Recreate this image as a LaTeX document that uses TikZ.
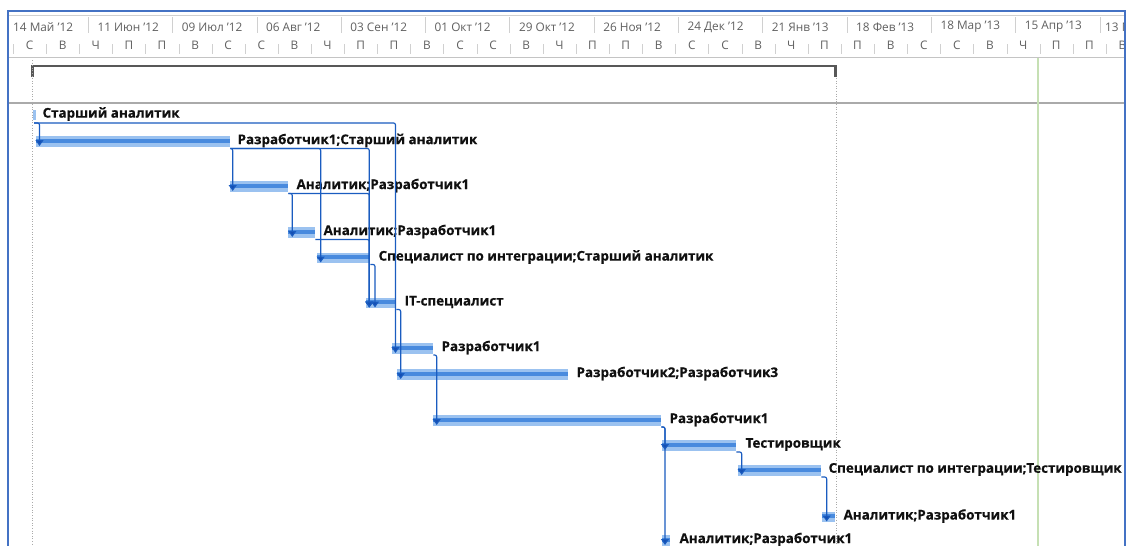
\documentclass[tikz,border=0pt]{standalone}
\usepackage{fontspec}
\setmainfont{Open Sans}
\newfontfamily\lblfont{Open Sans}[FakeBold=0.45]
\usetikzlibrary{arrows.meta}
\definecolor{frameblue}{RGB}{68,114,196}
\definecolor{barlight}{RGB}{155,194,240}
\definecolor{bardark}{RGB}{72,138,222}
\definecolor{linkblue}{RGB}{26,92,192}
\definecolor{tipblue}{RGB}{20,78,178}
\definecolor{hdrgrey}{RGB}{96,96,96}
\definecolor{tickgrey}{RGB}{208,208,208}
\definecolor{rulegrey}{RGB}{170,170,170}
\definecolor{sumgrey}{RGB}{88,88,88}
\definecolor{dotgrey}{RGB}{170,170,170}
\definecolor{todaygreen}{RGB}{198,224,180}
\definecolor{lblblack}{RGB}{16,16,16}

\begin{document}
\begin{tikzpicture}[x=1pt,y=-1pt,
  hdr/.style={font=\fontsize{11.8}{14}\selectfont, text=hdrgrey, inner sep=0pt},
  lbl/.style={font=\lblfont\bfseries\fontsize{13.4}{15}\selectfont, text=lblblack, inner sep=0pt, anchor=west},
  barbox/.style={fill=barlight, draw=none, inner sep=0pt, minimum height=10.5pt, anchor=west},
  link/.style={draw=linkblue, line width=1.15pt, rounded corners=2pt,
               -{Triangle[width=8pt,length=6pt,fill=tipblue]}},
  tick/.style={draw=tickgrey, line width=0.8pt},
]
% canvas
\fill[white] (0,0) rectangle (1128,546);
\useasboundingbox (0,0) rectangle (1128,546);

% ---------- timescale header ----------
\draw[tickgrey, line width=1pt] (8,15) -- (1125,15);
\draw[rulegrey!70, line width=1.3pt] (8,57.5) -- (1125,57.5);
\begin{scope}
  \clip (8,11) rectangle (1123,60);
  % major tier: four-week blocks
  \foreach \k in {0,...,12}
    \draw[tick] (88.3+84.3*\k,17) -- (88.3+84.3*\k,33);
  \foreach \t [count=\k from 0] in
    {14 Май '12,11 Июн '12,09 Июл '12,06 Авг '12,03 Сен '12,01 Окт '12,29 Окт '12,
     26 Ноя '12,24 Дек '12,21 Янв '13,18 Фев '13,18 Мар '13,15 Апр '13}
    \node[hdr, anchor=west] (maj\k) at (13+84.3*\k,27) {\t};
  \node[hdr, anchor=west] (maj13) at (1105,27) {13 М};
  % minor tier: eleven-day steps
  \foreach \k in {0,...,33}
    \draw[tick] (13.3+33.12*\k,44) -- (13.3+33.12*\k,54);
  \foreach \c [count=\k from 0] in
    {С,В,Ч,П,П,В,С,С,В,Ч,П,П,В,С,С,В,Ч,П,П,В,С,С,В,Ч,П,П,В,С,С,В,Ч,П,П,В}
    \node[hdr] (min\k) at (29.5+33.12*\k,45.5) {\c};
\end{scope}

% ---------- project summary ----------
\draw[sumgrey, line width=2pt] (32,66) -- (836,66);
\fill[sumgrey] (31,64.5) rectangle (34,77);
\fill[sumgrey] (834,64.5) rectangle (837,77);
\draw[rulegrey, line width=1.3pt] (8,103) -- (1125,103);

% project bounds and status date
\draw[dotgrey, line width=0.8pt, dash pattern=on 1pt off 1.6pt] (32,60) -- (32,546);
\draw[dotgrey, line width=0.8pt, dash pattern=on 1pt off 1.6pt] (836,78) -- (836,546);
\draw[todaygreen, line width=2pt] (1037.5,58) -- (1037.5,546);

% ---------- task bars ----------
\node[barbox, minimum width=3pt]   (t1)  at (33,115)    {};
\node[barbox, minimum width=194pt] (t2)  at (36,141.5)  {};
\node[barbox, minimum width=58pt]  (t3)  at (230,186.5) {};
\node[barbox, minimum width=27pt]  (t4)  at (288,232.5) {};
\node[barbox, minimum width=53pt]  (t5)  at (317,258)   {};
\node[barbox, minimum width=30pt]  (t6)  at (366,303)   {};
\node[barbox, minimum width=41pt]  (t7)  at (392,348.5) {};
\node[barbox, minimum width=171pt] (t8)  at (397,374.5) {};
\node[barbox, minimum width=228pt] (t9)  at (433,420.5) {};
\node[barbox, minimum width=74pt]  (t10) at (662,445.5) {};
\node[barbox, minimum width=83pt]  (t11) at (738,470.5) {};
\node[barbox, minimum width=13pt]  (t12) at (822,517)   {};
\node[barbox, minimum width=8pt]   (t13) at (662,540.5) {};
% darker core stripe of each bar
\foreach \b in {t2,t3,t4,t5,t6,t7,t8,t9,t10,t11,t12,t13}
  \fill[bardark] ([yshift=2.8pt]\b.west) rectangle ([yshift=-1.2pt]\b.east);

% ---------- resource labels ----------
\node[lbl] (l1)  at ([xshift=6pt,yshift=1pt]t1.east)  {Старший аналитик};
\node[lbl] (l2)  at ([xshift=7pt,yshift=1pt]t2.east)  {Разработчик1;Старший аналитик};
\node[lbl] (l3)  at ([xshift=8pt,yshift=1pt]t3.east)  {Аналитик;Разработчик1};
\node[lbl] (l4)  at ([xshift=8pt,yshift=1pt]t4.east)  {Аналитик;Разработчик1};
\node[lbl] (l5)  at ([xshift=8pt,yshift=1pt]t5.east)  {Специалист по интеграции;Старший аналитик};
\node[lbl] (l6)  at ([xshift=8pt,yshift=1pt]t6.east)  {IT-специалист};
\node[lbl] (l7)  at ([xshift=8pt,yshift=1pt]t7.east)  {Разработчик1};
\node[lbl] (l8)  at ([xshift=8pt,yshift=1pt]t8.east)  {Разработчик2;Разработчик3};
\node[lbl] (l9)  at ([xshift=8pt,yshift=1pt]t9.east)  {Разработчик1};
\node[lbl] (l10) at ([xshift=9pt,yshift=1pt]t10.east) {Тестировщик};
\node[lbl] (l11) at ([xshift=7pt,yshift=1pt]t11.east) {Специалист по интеграции;Тестировщик};
\node[lbl] (l12) at ([xshift=8pt,yshift=1pt]t12.east) {Аналитик;Разработчик1};
\node[lbl] (l13) at ([xshift=9pt,yshift=1pt]t13.east) {Аналитик;Разработчик1};

% ---------- finish-to-start links ----------
\draw[link] (t1.south west) ++(1,2.5) -| ([xshift=3.5pt,yshift=-4.5pt]t7.west);
\draw[link] (t1.south west) ++(1,2.5) -| ([xshift=3.5pt,yshift=-4.5pt]t2.west);
\draw[link] (t2.south east) ++(0,1.5) -| ([xshift=3.3pt,yshift=-4.5pt]t6.west);
\draw[link] (t2.south east) ++(0,1.5) -| ([xshift=3.7pt,yshift=-4.5pt]t5.west);
\draw[link] (t2.south east) ++(0,1.5) -| ([xshift=2.7pt,yshift=-4.5pt]t3.west);
\draw[link] (t3.south east) ++(0,1.5) -| ([xshift=3.3pt,yshift=-4.5pt]t6.west);
\draw[link] (t3.south east) ++(0,1.5) -| ([xshift=4.3pt,yshift=-4.5pt]t4.west);
\draw[link] (t4.south east) ++(0,1.5) -| ([xshift=3.3pt,yshift=-4.5pt]t6.west);
\draw[link] (t5.south east) ++(0,1)   -| ([xshift=9pt,yshift=-4.5pt]t6.west);
\draw[link] (t6.south east) ++(0,1)   -| ([xshift=3.7pt,yshift=-4.5pt]t8.west);
\draw[link] (t7.south east) ++(0,1)   -| ([xshift=3.7pt,yshift=-4.5pt]t9.west);
\draw[link] (t9.south east) ++(0,1)   -| ([xshift=3pt,yshift=-4.5pt]t13.west);
\draw[link] (t9.south east) ++(0,1)   -| ([xshift=3pt,yshift=-4.5pt]t10.west);
\draw[link] (t10.south east) ++(0,1)  -| ([xshift=3.7pt,yshift=-4.5pt]t11.west);
\draw[link] (t11.south east) ++(0,1)  -| ([xshift=4.7pt,yshift=-4.5pt]t12.west);

% ---------- view frame ----------
\fill[white] (1123.5,0) rectangle (1128,546);
\draw[frameblue, line width=2.5pt] (8,546) -- (8,11) -- (1125,11) -- (1125,546);
\end{tikzpicture}
\end{document}
